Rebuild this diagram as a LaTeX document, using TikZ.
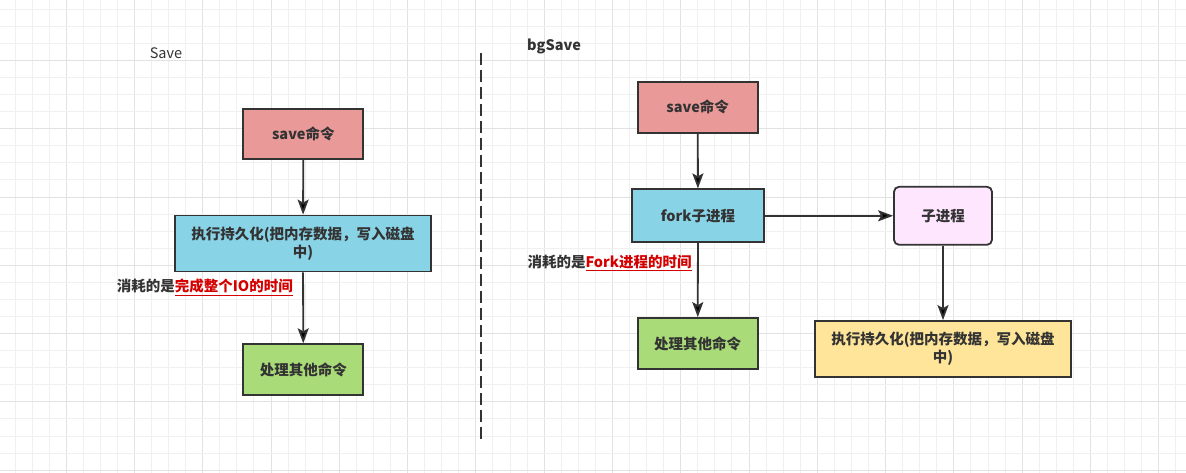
\documentclass[tikz,border=0pt]{standalone}
\usepackage{fontspec}
\setmainfont{Noto Sans CJK SC}
\usetikzlibrary{arrows.meta}
\definecolor{inkgray}{HTML}{333333}
\definecolor{gridminor}{HTML}{F0F0F0}
\definecolor{gridmajor}{HTML}{E2E2E2}
\definecolor{cmdred}{HTML}{EA9999}
\definecolor{forkblue}{HTML}{88D3E6}
\definecolor{donegreen}{HTML}{A9DB78}
\definecolor{childpink}{HTML}{FFE6FF}
\definecolor{diskyellow}{HTML}{FFE599}
\definecolor{costred}{HTML}{D40000}

\begin{document}
\begin{tikzpicture}[x=1pt,y=-1pt,
    flow/.style={-{Stealth[length=15pt,width=11pt,inset=3pt]},line width=1.8pt,draw=inkgray},
    box/.style={draw=inkgray,line width=1.8pt,text=inkgray,align=center,inner sep=0pt,
        font=\bfseries\fontsize{14.5}{18}\selectfont},
    note/.style={text=inkgray,inner sep=0pt,font=\fontsize{14.5}{18}\selectfont}]
    \useasboundingbox (0,0) rectangle (1186,473);
    \fill[white] (0,0) rectangle (1186,473);
    % background grid
    \foreach \i in {0,...,68}{
        \pgfmathsetmacro{\gx}{15+17.07*\i}
        \pgfmathtruncatemacro{\gm}{mod(\i,4)}
        \ifnum\gm=3
            \draw[gridmajor,line width=1pt] (\gx,0) -- (\gx,473);
        \else
            \draw[gridminor,line width=1pt] (\gx,0) -- (\gx,473);
        \fi}
    \foreach \j in {0,...,27}{
        \pgfmathsetmacro{\gy}{9.3+17.07*\j}
        \pgfmathtruncatemacro{\gm}{mod(\j,4)}
        \ifnum\gm=3
            \draw[gridmajor,line width=1pt] (0,\gy) -- (1186,\gy);
        \else
            \draw[gridminor,line width=1pt] (0,\gy) -- (1186,\gy);
        \fi}

    % save
    \node[note] (savetitle) at (166,53) {Save};
    \node[box,fill=cmdred,minimum width=120,minimum height=50] (save1) at (303.3,134) {save命令};
    \node[box,fill=forkblue,minimum width=256,minimum height=56] (persist1) at (303,243.5)
        {执行持久化(把内存数据，写入磁盘\\中)};
    \node[box,fill=donegreen,minimum width=120,minimum height=51] (other1) at (303.3,369.7) {处理其他命令};
    \node[note,anchor=west,font=\bfseries\fontsize{14.5}{18}\selectfont] (cost1) at (116.7,287.3)
        {消耗的是{\color{costred}\underline{完成整个IO的时间}}};
    \path[flow]
        (save1) edge (persist1)
        (persist1) edge (other1);

    % divider
    \coordinate (divtop) at (481,53);
    \coordinate (divbot) at (481,443);
    \draw[inkgray,line width=2pt,dash pattern=on 12pt off 5pt] (divtop) -- (divbot);

    % bgsave
    \node[note,font=\bfseries\fontsize{14.5}{18}\selectfont] (bgtitle) at (554,46) {bgSave};
    \node[box,fill=cmdred,minimum width=120,minimum height=51] (save2) at (697.7,107.2) {save命令};
    \node[box,fill=forkblue,minimum width=132,minimum height=53] (fork2) at (698,215.8) {fork子进程};
    \node[box,fill=childpink,rounded corners=5pt,minimum width=98,minimum height=58] (child2) at (943,215.8) {子进程};
    \node[box,fill=donegreen,minimum width=120,minimum height=51] (other2) at (697.7,343.5) {处理其他命令};
    \node[box,fill=diskyellow,minimum width=256,minimum height=56] (persist2) at (943,349)
        {执行持久化(把内存数据，写入磁盘\\中)};
    \node[note,anchor=west,font=\bfseries\fontsize{14.5}{18}\selectfont] (cost2) at (527.3,262.7)
        {消耗的是{\color{costred}\underline{Fork进程的时间}}};
    \path[flow]
        (save2) edge (fork2)
        (fork2) edge (child2)
                edge (other2)
        (child2) edge (persist2);
\end{tikzpicture}
\end{document}
